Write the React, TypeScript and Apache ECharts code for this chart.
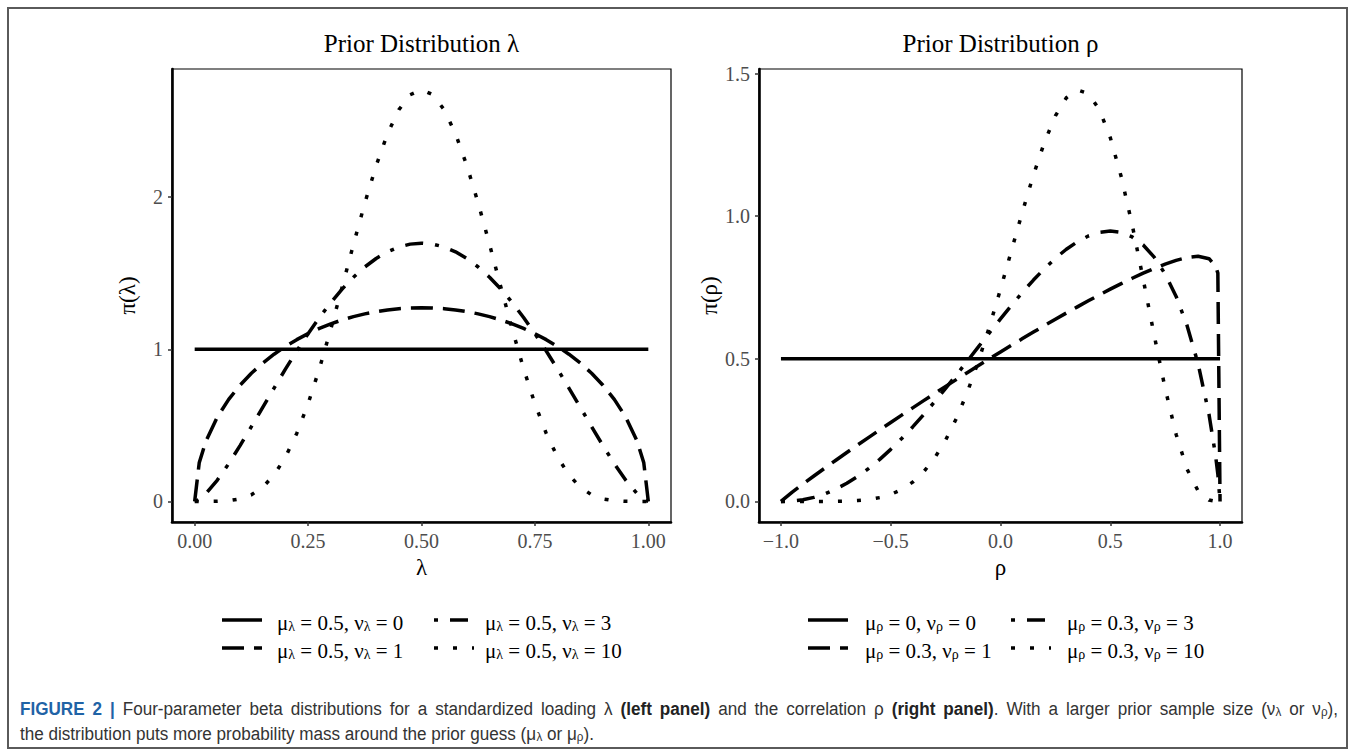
import React, { useEffect, useRef } from "react";
import * as echarts from "echarts";

// ---------- data ----------
const lambdaTicks = [0, 0.25, 0.5, 0.75, 1];
const lambdaYTicks = [0, 1, 2];
const rhoTicks = [-1, -0.5, 0, 0.5, 1];
const rhoYTicks = [0, 0.5, 1, 1.5];

const lambdaUniformX = [0, 1];
const lambdaUniformY = [1, 1];

const lambdaX = [0, 0.01, 0.025, 0.05, 0.075, 0.1, 0.125, 0.15, 0.175, 0.2, 0.225, 0.25, 0.275, 0.3, 0.325, 0.35, 0.375, 0.4, 0.425, 0.45, 0.475, 0.5, 0.525, 0.55, 0.575, 0.6, 0.625, 0.65, 0.675, 0.7, 0.725, 0.75, 0.775, 0.8, 0.825, 0.85, 0.875, 0.9, 0.925, 0.95, 0.975, 0.99, 1];
const lambdaNu1 = [0, 0.2534, 0.3976, 0.555, 0.6707, 0.7639, 0.8422, 0.9093, 0.9676, 1.0186, 1.0634, 1.1027, 1.137, 1.1669, 1.1927, 1.2146, 1.2328, 1.2475, 1.2588, 1.2669, 1.2716, 1.2732, 1.2716, 1.2669, 1.2588, 1.2475, 1.2328, 1.2146, 1.1927, 1.1669, 1.137, 1.1027, 1.0634, 1.0186, 0.9676, 0.9093, 0.8422, 0.7639, 0.6707, 0.555, 0.3976, 0.2534, 0];
const lambdaNu3 = [0, 0.0134, 0.0517, 0.1406, 0.2482, 0.3667, 0.4913, 0.6183, 0.745, 0.8692, 0.9889, 1.1026, 1.209, 1.307, 1.3955, 1.4737, 1.541, 1.5968, 1.6406, 1.6723, 1.6912, 1.6976, 1.6912, 1.6723, 1.6406, 1.5968, 1.541, 1.4737, 1.3955, 1.307, 1.209, 1.1026, 0.9889, 0.8692, 0.745, 0.6183, 0.4913, 0.3667, 0.2482, 0.1406, 0.0517, 0.0134, 0];
const lambdaNu10 = [0, 0, 0, 0.0007, 0.0045, 0.0164, 0.0434, 0.0934, 0.1739, 0.2907, 0.4469, 0.6424, 0.8733, 1.1321, 1.4084, 1.6893, 1.9604, 2.2072, 2.4159, 2.5743, 2.6733, 2.707, 2.6733, 2.5743, 2.4159, 2.2072, 1.9604, 1.6893, 1.4084, 1.1321, 0.8733, 0.6424, 0.4469, 0.2907, 0.1739, 0.0934, 0.0434, 0.0164, 0.0045, 0.0007, 0, 0, 0];

const rhoUniformX = [-1, 1];
const rhoUniformY = [0.5, 0.5];

const rhoX = [-1, -0.95, -0.9, -0.85, -0.8, -0.75, -0.7, -0.65, -0.6, -0.55, -0.5, -0.45, -0.4, -0.35, -0.3, -0.25, -0.2, -0.15, -0.1, -0.05, 0, 0.05, 0.1, 0.15, 0.2, 0.25, 0.3, 0.35, 0.4, 0.45, 0.5, 0.55, 0.6, 0.65, 0.7, 0.75, 0.8, 0.85, 0.9, 0.95, 0.98, 0.99, 1];
const rhoNu1 = [0, 0.0315, 0.0607, 0.0892, 0.117, 0.1444, 0.1715, 0.1982, 0.2247, 0.2509, 0.2769, 0.3026, 0.3281, 0.3534, 0.3784, 0.4033, 0.4279, 0.4523, 0.4765, 0.5004, 0.5242, 0.5476, 0.5708, 0.5937, 0.6164, 0.6387, 0.6606, 0.6822, 0.7034, 0.7241, 0.7442, 0.7637, 0.7825, 0.8003, 0.817, 0.8322, 0.8453, 0.8552, 0.8596, 0.851, 0.8248, 0.8005, 0];
const rhoNu3 = [0, 0.0013, 0.0058, 0.0142, 0.0266, 0.0431, 0.0635, 0.0878, 0.1159, 0.1475, 0.1825, 0.2204, 0.2611, 0.3043, 0.3494, 0.3962, 0.4443, 0.4933, 0.5426, 0.5918, 0.6402, 0.6876, 0.7331, 0.7762, 0.8162, 0.8525, 0.8842, 0.9105, 0.9306, 0.9434, 0.948, 0.943, 0.9272, 0.8991, 0.8565, 0.7973, 0.7186, 0.616, 0.4825, 0.3042, 0.1584, 0.0953, 0];
const rhoNu10 = [0, 0, 0, 0, 0.0001, 0.0004, 0.0011, 0.0029, 0.0066, 0.0132, 0.0244, 0.0419, 0.0676, 0.1038, 0.1523, 0.2148, 0.2923, 0.3852, 0.493, 0.6135, 0.7441, 0.8799, 1.0157, 1.1443, 1.259, 1.3516, 1.4153, 1.4431, 1.4302, 1.3746, 1.2759, 1.1381, 0.9691, 0.7789, 0.5827, 0.3959, 0.2348, 0.1126, 0.0369, 0.0048, 0.0002, 0, 0];

const lambdaMu = ["0.5", "0.5", "0.5", "0.5"];
const rhoMu = ["0", "0.3", "0.3", "0.3"];
const nuValues = ["0", "1", "3", "10"];

// caption words: each word is a list of [style, text] pieces
const captionLine1: [string, string][][] = [
  [["f", "FIGURE"]], [["f", "2"]], [["f", "|"]],
  [["n", "Four-parameter"]], [["n", "beta"]], [["n", "distributions"]], [["n", "for"]], [["n", "a"]],
  [["n", "standardized"]], [["n", "loading"]], [["n", "\u03bb"]],
  [["b", "(left"]], [["b", "panel)"]],
  [["n", "and"]], [["n", "the"]], [["n", "correlation"]], [["n", "\u03c1"]],
  [["b", "(right"]], [["b", "panel)"], ["n", "."]],
  [["n", "With"]], [["n", "a"]], [["n", "larger"]], [["n", "prior"]], [["n", "sample"]], [["n", "size"]],
  [["n", "(\u03bd"], ["s", "\u03bb"]], [["n", "or"]], [["n", "\u03bd"], ["s", "\u03c1"], ["n", "),"]],
];
const captionLine2 = "{n|the distribution puts more probability mass around the prior guess (\u03bc}{s|\u03bb}{n| or \u03bc}{s|\u03c1}{n|).}";

// ---------- styling ----------
const SERIF = '"Liberation Serif", "Times New Roman", "DejaVu Serif", serif';
const SANS = '"Liberation Sans", Arial, "DejaVu Sans", sans-serif';
const LW = 3.5;
const DASHES: any[] = ["solid", [22, 10], [4, 12, 18, 12], [4, 15]];
const CAP_SIZE = 19;
const CAP_SUB = 13;
const CAP_SCALE = 0.9;
const CAP_X = 20;
const CAP_RIGHT = 1338;

const CAP_FONTS: Record<string, { size: number; weight: string }> = {
  f: { size: CAP_SIZE, weight: "bold" },
  n: { size: CAP_SIZE, weight: "normal" },
  b: { size: CAP_SIZE, weight: "bold" },
  s: { size: CAP_SUB, weight: "normal" },
};

function pairs(xs: number[], ys: number[]) {
  return xs.map((x, i) => [x, ys[i]]);
}

function lineSeries(name: string, idx: number, xs: number[], ys: number[], dash: any) {
  return {
    name,
    type: "line",
    xAxisIndex: idx,
    yAxisIndex: idx,
    data: pairs(xs, ys),
    showSymbol: false,
    symbol: "none",
    smooth: false,
    silent: true,
    lineStyle: { color: "#000", width: LW, type: dash, cap: "butt", join: "round" },
  };
}

function makeAxis(extra: any) {
  return {
    type: "value",
    axisLine: { show: true, onZero: false, lineStyle: { color: "#000", width: 2.6 } },
    axisTick: { show: true, length: 4, lineStyle: { color: "#333", width: 1.5 }, customValues: extra.ticks },
    splitLine: { show: false },
    axisLabel: {
      show: true,
      color: "#4d4d4d",
      fontFamily: SERIF,
      fontSize: 20,
      margin: extra.margin,
      customValues: extra.ticks,
      formatter: extra.formatter,
    },
    nameTextStyle: { color: "#000", fontFamily: SERIF, fontSize: 23 },
    ...extra.rest,
  };
}

function legendGraphics(mu: string[], sym: string, cols: { keyX: number; textX: number }[]) {
  const rows = [620, 648];
  const els: any[] = [];
  const slots = [
    [0, 0],
    [0, 1],
    [1, 0],
    [1, 1],
  ];
  for (let i = 0; i < 4; i++) {
    const [c, r] = slots[i];
    const y = rows[r];
    const kx = cols[c].keyX;
    const style: any = { stroke: "#000", lineWidth: LW, lineCap: "butt" };
    if (DASHES[i] !== "solid") style.lineDash = DASHES[i];
    els.push({ type: "line", shape: { x1: kx, y1: y, x2: kx + 40, y2: y }, style, silent: true });
    els.push({
      type: "text",
      x: cols[c].textX,
      y,
      silent: true,
      style: {
        text: `{m|\u03bc}{s|${sym}}{m| = ${mu[i]}, \u03bd}{s|${sym}}{m| = ${nuValues[i]}}`,
        align: "left",
        verticalAlign: "middle",
        textAlign: "left",
        textVerticalAlign: "middle",
        fill: "#000",
        rich: {
          m: { fontSize: 21, fontFamily: SERIF, fill: "#000", lineHeight: 26, verticalAlign: "bottom" },
          s: { fontSize: 14, fontFamily: SERIF, fill: "#000", lineHeight: 12, verticalAlign: "bottom" },
        },
      },
    });
  }
  return els;
}

function measureSpaceWidth(): number {
  let total = 0;
  let ctx: CanvasRenderingContext2D | null = null;
  try {
    ctx = document.createElement("canvas").getContext("2d");
  } catch (e) {
    ctx = null;
  }
  if (!ctx) return 8;
  captionLine1.forEach((word) => {
    word.forEach(([st, txt]) => {
      const f = CAP_FONTS[st];
      ctx!.font = `${f.weight} ${f.size}px ${SANS}`;
      total += ctx!.measureText(txt).width;
    });
  });
  const gaps = captionLine1.length - 1;
  const w = (CAP_RIGHT - CAP_X) / CAP_SCALE - total;
  return Math.max(4, w / gaps);
}

function buildOption() {
  const spaceW = measureSpaceWidth();
  const captionRich: any = {
    f: { fontSize: CAP_SIZE, fontFamily: SANS, fontWeight: "bold", fill: "#1f63a6", lineHeight: 23, verticalAlign: "bottom" },
    n: { fontSize: CAP_SIZE, fontFamily: SANS, fill: "#333", lineHeight: 23, verticalAlign: "bottom" },
    b: { fontSize: CAP_SIZE, fontFamily: SANS, fontWeight: "bold", fill: "#222", lineHeight: 23, verticalAlign: "bottom" },
    s: { fontSize: CAP_SUB, fontFamily: SANS, fill: "#333", lineHeight: 14, verticalAlign: "bottom" },
    sp: { fontSize: CAP_SIZE, fontFamily: SANS, fill: "#333", lineHeight: 23, verticalAlign: "bottom", width: spaceW },
  };
  const line1Text = captionLine1
    .map((word) => word.map(([st, txt]) => `{${st}|${txt}}`).join(""))
    .join("{sp| }");

  const graphic: any[] = [
    {
      type: "rect",
      shape: { x: 8, y: 8, width: 1339, height: 740 },
      style: { fill: "none", stroke: "#5a5a5a", lineWidth: 2 },
      silent: true,
    },
    ...legendGraphics(lambdaMu, "\u03bb", [
      { keyX: 222, textX: 277 },
      { keyX: 434, textX: 485 },
    ]),
    ...legendGraphics(rhoMu, "\u03c1", [
      { keyX: 808, textX: 865 },
      { keyX: 1011, textX: 1067 },
    ]),
    {
      type: "text",
      x: CAP_X,
      y: 707,
      scaleX: CAP_SCALE,
      silent: true,
      style: {
        text: line1Text,
        align: "left",
        verticalAlign: "middle",
        textAlign: "left",
        textVerticalAlign: "middle",
        rich: captionRich,
      },
    },
    {
      type: "text",
      x: CAP_X,
      y: 732,
      scaleX: CAP_SCALE,
      silent: true,
      style: {
        text: captionLine2,
        align: "left",
        verticalAlign: "middle",
        textAlign: "left",
        textVerticalAlign: "middle",
        rich: captionRich,
      },
    },
  ];

  return {
    animation: false,
    backgroundColor: "#fff",
    title: [
      {
        text: "Prior Distribution \u03bb",
        left: 421.5,
        top: 31,
        textAlign: "center",
        padding: 0,
        textStyle: { fontFamily: SERIF, fontSize: 25, fontWeight: "normal", color: "#000" },
      },
      {
        text: "Prior Distribution \u03c1",
        left: 1000.5,
        top: 31,
        textAlign: "center",
        padding: 0,
        textStyle: { fontFamily: SERIF, fontSize: 25, fontWeight: "normal", color: "#000" },
      },
    ],
    grid: [
      { left: 172, top: 69, width: 499, height: 453, show: true, borderColor: "#000", borderWidth: 1.2, backgroundColor: "transparent", containLabel: false },
      { left: 759, top: 69, width: 483, height: 453, show: true, borderColor: "#000", borderWidth: 1.2, backgroundColor: "transparent", containLabel: false },
    ],
    xAxis: [
      makeAxis({
        ticks: lambdaTicks,
        margin: 9,
        formatter: (v: number) => v.toFixed(2),
        rest: { gridIndex: 0, min: -0.05, max: 1.05, name: "\u03bb", nameLocation: "middle", nameGap: 30 },
      }),
      makeAxis({
        ticks: rhoTicks,
        margin: 9,
        formatter: (v: number) => (v < 0 ? "\u2212" : "") + Math.abs(v).toFixed(1),
        rest: { gridIndex: 1, min: -1.1, max: 1.1, name: "\u03c1", nameLocation: "middle", nameGap: 30 },
      }),
    ],
    yAxis: [
      makeAxis({
        ticks: lambdaYTicks,
        margin: 9,
        formatter: (v: number) => String(v),
        rest: { gridIndex: 0, min: -0.1354, max: 2.8424, name: "\u03c0(\u03bb)", nameLocation: "middle", nameRotate: 90, nameGap: 33 },
      }),
      makeAxis({
        ticks: rhoYTicks,
        margin: 9,
        formatter: (v: number) => v.toFixed(1),
        rest: { gridIndex: 1, min: -0.0722, max: 1.5162, name: "\u03c0(\u03c1)", nameLocation: "middle", nameRotate: 90, nameGap: 31 },
      }),
    ],
    series: [
      lineSeries("\u03bc\u03bb = 0.5, \u03bd\u03bb = 0", 0, lambdaUniformX, lambdaUniformY, DASHES[0]),
      lineSeries("\u03bc\u03bb = 0.5, \u03bd\u03bb = 1", 0, lambdaX, lambdaNu1, DASHES[1]),
      lineSeries("\u03bc\u03bb = 0.5, \u03bd\u03bb = 3", 0, lambdaX, lambdaNu3, DASHES[2]),
      lineSeries("\u03bc\u03bb = 0.5, \u03bd\u03bb = 10", 0, lambdaX, lambdaNu10, DASHES[3]),
      lineSeries("\u03bc\u03c1 = 0, \u03bd\u03c1 = 0", 1, rhoUniformX, rhoUniformY, DASHES[0]),
      lineSeries("\u03bc\u03c1 = 0.3, \u03bd\u03c1 = 1", 1, rhoX, rhoNu1, DASHES[1]),
      lineSeries("\u03bc\u03c1 = 0.3, \u03bd\u03c1 = 3", 1, rhoX, rhoNu3, DASHES[2]),
      lineSeries("\u03bc\u03c1 = 0.3, \u03bd\u03c1 = 10", 1, rhoX, rhoNu10, DASHES[3]),
    ],
    graphic,
  };
}

export default function App() {
  const ref = useRef<HTMLDivElement>(null);
  useEffect(() => {
    if (!ref.current) return;
    const chart = echarts.init(ref.current, null, { renderer: "svg", width: 1355, height: 756 });
    chart.setOption(buildOption() as any);
    return () => chart.dispose();
  }, []);
  return (
    <div
      ref={ref}
      style={{ position: "absolute", left: 0, top: 0, width: 1355, height: 756, background: "#fff" }}
    />
  );
}
